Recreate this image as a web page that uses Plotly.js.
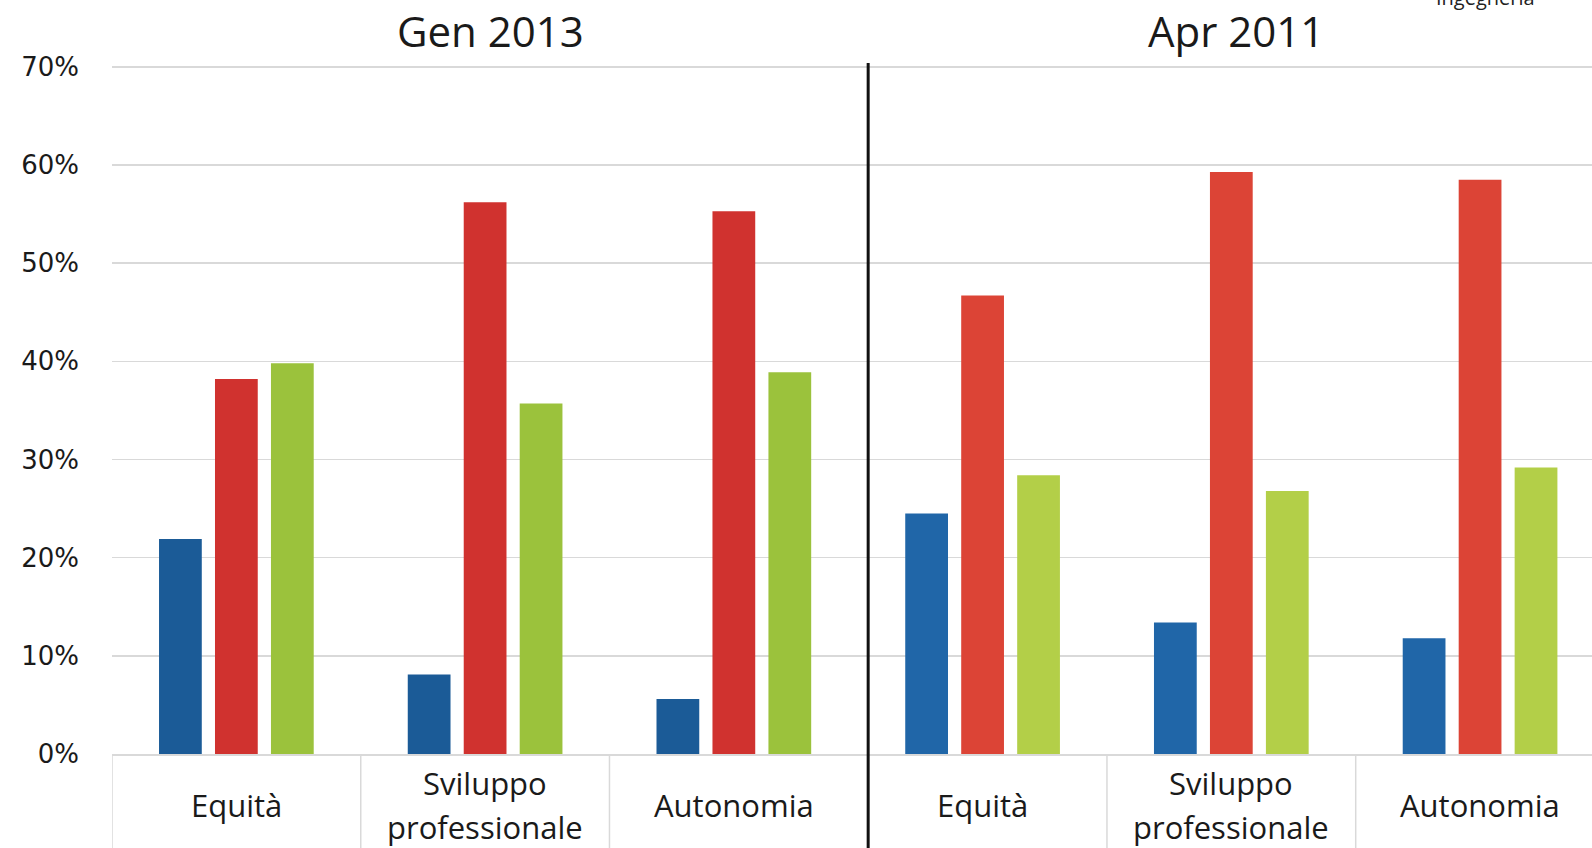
<!DOCTYPE html>
<html>
<head>
<meta charset="utf-8">
<script src="https://cdn.plot.ly/plotly-3.0.1.min.js"></script>
<style>html,body{margin:0;padding:0;background:#fff;}#chart{width:1592px;height:848px;}</style>
</head>
<body>
<div id="chart"></div>
<script>
// Data
var categories = ['Equità', 'Sviluppo<br>professionale', 'Autonomia', 'Equità', 'Sviluppo<br>professionale', 'Autonomia'];
var periods = ['Gen 2013', 'Apr 2011'];
var periodCenters = [1, 4];
var blueVals  = [0.219, 0.081, 0.056, 0.245, 0.134, 0.118];
var redVals   = [0.382, 0.562, 0.553, 0.467, 0.593, 0.585];
var greenVals = [0.398, 0.357, 0.389, 0.284, 0.268, 0.292];
var blueColors  = ['#1b5b97', '#1b5b97', '#1b5b97', '#2066a8', '#2066a8', '#2066a8'];
var redColors   = ['#d0322f', '#d0322f', '#d0322f', '#dc4436', '#dc4436', '#dc4436'];
var greenColors = ['#9bc23c', '#9bc23c', '#9bc23c', '#b3cf48', '#b3cf48', '#b3cf48'];
var cornerText = 'Ingegneria';

var xIdx = categories.map(function (c, i) { return i; });

function barTrace(vals, colors) {
  return { type: 'bar', x: xIdx, y: vals, marker: { color: colors }, hoverinfo: 'y', showlegend: false };
}

var traces = [barTrace(blueVals, blueColors), barTrace(redVals, redColors), barTrace(greenVals, greenColors)];

var shapes = [];
[-0.5, 0.5, 1.5, 3.5, 4.5].forEach(function (xv) {
  shapes.push({ type: 'line', xref: 'x', yref: 'paper', x0: xv, x1: xv, y0: 0, y1: -0.15, line: { color: '#d9d9d9', width: 1.5 } });
});
shapes.push({ type: 'line', xref: 'x', yref: 'paper', x0: 2.54, x1: 2.54, y0: 0.9986, y1: -0.15, line: { color: '#111111', width: 3 } });

var plotH = 848 - 62 - 94;
var annotations = [];
categories.forEach(function (c, i) {
  var lines = c.split('<br>');
  var step = 44 / plotH;
  lines.forEach(function (ln, k) {
    var off = (k - (lines.length - 1) / 2) * step;
    annotations.push({ xref: 'x', yref: 'paper', x: i, y: -0.0737 - off, text: ln, showarrow: false, xanchor: 'center', yanchor: 'middle',
      font: { family: 'Open Sans', size: 31, color: '#1a1a1a' } });
  });
});
periods.forEach(function (p, i) {
  annotations.push({ xref: 'x', yref: 'paper', x: periodCenters[i] + 0.02, y: 1.0893, text: p, showarrow: false, xanchor: 'center', yanchor: 'top',
    font: { family: 'Open Sans', size: 42, color: '#1a1a1a' } });
});
annotations.push({ xref: 'paper', yref: 'paper', x: 0.928, y: 1.0702, text: cornerText, showarrow: false, xanchor: 'center', yanchor: 'bottom',
  font: { family: 'Open Sans', size: 20, color: '#222' } });

var layout = {
  width: 1592, height: 848,
  margin: { l: 112, r: 0, t: 62, b: 94 },
  paper_bgcolor: '#ffffff', plot_bgcolor: '#ffffff',
  barmode: 'group', bargap: 0.325, bargroupgap: 0.236,
  xaxis: { range: [-0.5, 5.45], showticklabels: false, showgrid: false, zeroline: false,
    showline: true, linecolor: '#d9d9d9', linewidth: 1.5, ticks: '' },
  yaxis: { range: [0, 0.705], dtick: 0.1, tickformat: '.0%', showgrid: true, gridcolor: '#d9d9d9', gridwidth: 1.5,
    zeroline: false, ticks: '', ticklabelstandoff: 32,
    tickfont: { family: 'DejaVu Sans', size: 26, color: '#1a1a1a' } },
  shapes: shapes,
  annotations: annotations
};

Plotly.newPlot('chart', traces, layout, { displayModeBar: false, staticPlot: true });
</script>
</body>
</html>
